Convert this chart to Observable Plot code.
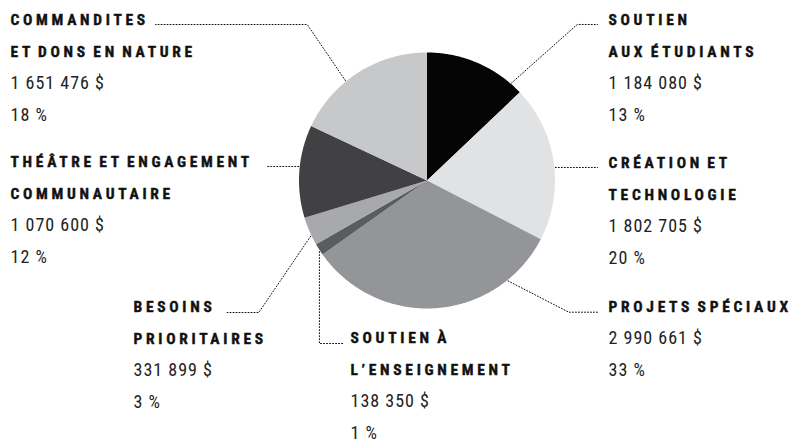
<!DOCTYPE html>
<html><head><meta charset="utf-8">
<script src="https://cdn.jsdelivr.net/npm/d3@7"></script>
<script src="https://cdn.jsdelivr.net/npm/@observablehq/plot@0.6"></script>
<style>
html,body{margin:0;padding:0;background:#fff;}
#chart svg{display:block;}
</style></head><body><div id="chart"></div>
<script>
// ---- data ----
const categories = ["Soutien aux étudiants","Création et technologie","Projets spéciaux","Soutien à l’enseignement","Besoins prioritaires","Théâtre et engagement communautaire","Commandites et dons en nature"];
const amounts = [1184080, 1802705, 2990661, 138350, 331899, 1070600, 1651476];
const percents = [13, 20, 33, 1, 3, 12, 18];
const headings = [
  ["SOUTIEN", "AUX ÉTUDIANTS"],
  ["CRÉATION ET", "TECHNOLOGIE"],
  ["PROJETS SPÉCIAUX"],
  ["SOUTIEN À", "L’ENSEIGNEMENT"],
  ["BESOINS", "PRIORITAIRES"],
  ["THÉÂTRE ET ENGAGEMENT", "COMMUNAUTAIRE"],
  ["COMMANDITES", "ET DONS EN NATURE"]
];
const colors = ["#050505", "#e1e2e3", "#939598", "#5b5c5e", "#a7a9ac", "#414042", "#c7c8ca"];

// ---- layout ----
const W = 791, H = 442, CX = 426.5, CY = 180, R = 128;
const labelAnchors = [[608,24],[608,167],[608,311],[350,342.5],[133,311.5],[10,166.7],[10,24]];
const LINE_STEP = 32;
const leaderT = [0.88, 0.533, 0.203, 0.34, 0.33, 0.55, 0.395];
const leaderRoutes = [
  [[576.7,24],[597,24]],
  [[597,null]],
  [[568.3,311.7],[598.3,311.7]],
  [[null,343],[343,343]],
  [[258.3,312],[226.7,312]],
  [[266.7,null]],
  [[306.7,24],[155,24]]
];
const FONT = "'Liberation Sans Narrow','Roboto Condensed','DejaVu Sans Condensed',Roboto,sans-serif";

// ---- build ----
const rows = categories.map((c, i) => ({cat: c, amount: amounts[i], pct: percents[i]}));
const arcs = d3.pie().sort(null).value(d => d.amount)(rows);
const pt = (a, r = R) => [CX + r * Math.sin(a), CY - r * Math.cos(a)];

const wedge = [];
arcs.forEach(a => {
  const n = Math.max(2, Math.ceil((a.endAngle - a.startAngle) / (Math.PI / 360)));
  wedge.push({cat: a.data.cat, x: CX, y: CY});
  for (let k = 0; k <= n; k++) {
    const [x, y] = pt(a.startAngle + (a.endAngle - a.startAngle) * k / n);
    wedge.push({cat: a.data.cat, x, y});
  }
  wedge.push({cat: a.data.cat, x: CX, y: CY});
});

const leaders = [];
arcs.forEach((a, i) => {
  const ang = a.startAngle + (a.endAngle - a.startAngle) * leaderT[i];
  const [x0, y0] = pt(ang, R + 1);
  leaders.push({id: i, x: x0, y: y0});
  leaderRoutes[i].forEach(([x, y]) => leaders.push({id: i, x: x == null ? x0 : x, y: y == null ? y0 : y}));
});

const fmt = d3.formatLocale({decimal: ",", thousands: " ", grouping: [3], currency: ["", " $"]}).format(",d");
const headRows = [], numRows = [];
rows.forEach((r, i) => {
  const [x, y0] = labelAnchors[i];
  headings[i].forEach((t, j) => headRows.push({x, y: y0 + j * LINE_STEP, text: t}));
  const n = headings[i].length;
  numRows.push({x, y: y0 + n * LINE_STEP, text: fmt(r.amount) + " $"});
  numRows.push({x, y: y0 + (n + 1) * LINE_STEP, text: r.pct + " %"});
});

const chart = Plot.plot({
  width: W, height: H, margin: 0,
  x: {domain: [0, W], range: [0, W], axis: null},
  y: {domain: [0, H], range: [0, H], axis: null},
  color: {domain: categories, range: colors},
  marks: [
    Plot.line(wedge, {x: "x", y: "y", z: "cat", fill: "cat", stroke: "none"}),
    Plot.line(leaders, {x: "x", y: "y", z: "id", stroke: "#111", strokeWidth: 1, strokeDasharray: "1,2"}),
    Plot.text(headRows, {x: "x", y: "y", text: "text", textAnchor: "start", lineAnchor: "bottom", fontSize: 15.5, fontWeight: "bold", fill: "#111", stroke: "#111", strokeWidth: 0.4, fontFamily: FONT}),
    Plot.text(numRows, {x: "x", y: "y", text: "text", textAnchor: "start", lineAnchor: "bottom", fontSize: 18, fill: "#222", fontFamily: FONT})
  ]
});
d3.select(chart).selectAll('g[font-weight="bold"] text').style("letter-spacing", "3.7px").style("word-spacing", "-2.8px");
d3.select(chart).selectAll('g[font-size="18"] text').style("letter-spacing", "1px");
document.getElementById("chart").appendChild(chart);
</script></body></html>
